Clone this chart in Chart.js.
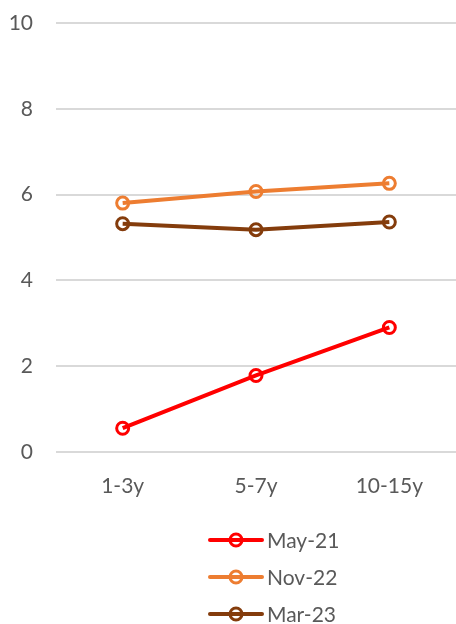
<!DOCTYPE html>
<html>
<head>
<meta charset="utf-8">
<script src="https://cdn.jsdelivr.net/npm/chart.js@4/dist/chart.umd.min.js"></script>
<style>
html, body { margin: 0; padding: 0; background: #fff; }
#wrap { width: 456px; height: 624px; position: relative; }
</style>
</head>
<body>
<div id="wrap"><canvas id="chart"></canvas></div>
<script>
/* data */
let categories = ["1-3y", "5-7y", "10-15y"];
let seriesNames = ["May-21", "Nov-22", "Mar-23"];
let may21 = [0.55, 1.78, 2.9];
let nov22 = [5.8, 6.07, 6.26];
let mar23 = [5.32, 5.18, 5.36];
let yTicks = [0, 2, 4, 6, 8, 10];

let colors = ["#ff0000", "#ed7d31", "#843c0c"];
let fontFamily = "Lato, 'Open Sans', sans-serif";
let textColor = "#595959";

function makeSet(name, values, color){
return {
label: name,
data: values,
borderColor: color,
backgroundColor: "rgba(255,255,255,0)",
borderWidth: 4,
pointRadius: 6,
pointBorderWidth: 3,
pointBorderColor: color,
pointBackgroundColor: "rgba(255,255,255,0)",
tension: 0
}
}

/* legend drawn as a vertical list under the axis */
const listLegend = {
id: "listLegend",
afterDraw(chart){
let ctx = chart.ctx;
let x0 = 210, x1 = 262, tx = 267;
let y = 540, step = 37;
ctx.save();
chart.data.datasets.forEach((ds, i) => {
let yy = y + i * step;
ctx.strokeStyle = ds.borderColor;
ctx.lineWidth = 4;
ctx.lineCap = "round";
ctx.beginPath();
ctx.moveTo(x0, yy);
ctx.lineTo(x1, yy);
ctx.stroke();
ctx.lineWidth = 3;
ctx.beginPath();
ctx.arc((x0 + x1) / 2, yy, 6, 0, Math.PI * 2);
ctx.stroke();
ctx.fillStyle = textColor;
ctx.font = "21px " + fontFamily;
ctx.textBaseline = "middle";
ctx.textAlign = "left";
ctx.fillText(ds.label, tx, yy + 1);
});
ctx.restore();
}
};

new Chart(document.getElementById("chart"), {
type: "line",
data: {
labels: categories,
datasets: [
makeSet(seriesNames[0], may21, colors[0]),
makeSet(seriesNames[1], nov22, colors[1]),
makeSet(seriesNames[2], mar23, colors[2])
]
},
options: {
responsive: true,
maintainAspectRatio: false,
animation: false,
layout: { autoPadding: false, padding: { top: 23, right: 0, bottom: 103, left: 0 } },
plugins: {
legend: { display: false },
tooltip: { enabled: false }
},
scales: {
x: {
offset: true,
grid: { display: false, drawTicks: false },
border: { display: false },
ticks: { color: textColor, font: { family: fontFamily, size: 21 }, padding: 22, maxRotation: 0 }
},
y: {
min: 0,
max: 10,
afterFit(scale){
scale.width = 56;
scale.paddingTop = 12;
scale.paddingBottom = 12;
},
afterBuildTicks(scale){ scale.ticks = yTicks.map(v => ({ value: v })); },
grid: { color: "#d9d9d9", lineWidth: 2, drawTicks: false },
border: { display: false },
ticks: { color: textColor, font: { family: fontFamily, size: 21 }, padding: 23 }
}
}
},
plugins: [listLegend]
});
</script>
</body>
</html>
